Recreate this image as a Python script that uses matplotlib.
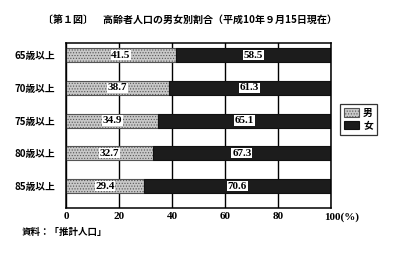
import matplotlib
matplotlib.use("Agg")
import matplotlib.pyplot as plt
import matplotlib.transforms as mtransforms
import numpy as np

plt.rcParams['font.family'] = ['Noto Sans CJK JP', 'DejaVu Sans']
plt.rcParams['hatch.linewidth'] = 0.5

# data
ages = ['65歳以上', '70歳以上', '75歳以上', '80歳以上', '85歳以上']
male = [41.5, 38.7, 34.9, 32.7, 29.4]
female = [58.5, 61.3, 65.1, 67.3, 70.6]
xticks = [0, 20, 40, 60, 80, 100]
xlabels = ['0', '20', '40', '60', '80', '100(%)']

num_font = ['Liberation Serif', 'DejaVu Serif']

fig = plt.figure(figsize=(3.96, 2.62), dpi=100)
ax = fig.add_axes([66/396, 54/262, 265/396, 165/262])

y = np.arange(len(ages))
h = 0.43
ax.barh(y, male, height=h, color='#c8c8c8', edgecolor='#555555',
        hatch='......', linewidth=0.8, label='男', zorder=2)
ax.barh(y, female, left=male, height=h, color='#1c1c1c', edgecolor='#111111',
        linewidth=0.8, label='女', zorder=2)

# value labels on white boxes
box = dict(facecolor='white', edgecolor='none', pad=0.5)
for i in range(len(ages)):
    ax.text(male[i] / 2, y[i], f'{male[i]:.1f}', ha='center', va='center',
            fontsize=8, fontweight='bold', family=num_font, bbox=box, zorder=3)
    ax.text(male[i] + female[i] / 2, y[i], f'{female[i]:.1f}', ha='center',
            va='center', fontsize=8, fontweight='bold', family=num_font,
            bbox=box, zorder=3)

ax.set_xlim(0, 100)
ax.set_ylim(4.67, -0.37)
ax.set_yticks(y)
ax.set_yticklabels(ages, fontsize=7, fontweight='bold')
ax.set_xticks(xticks)
ax.set_xticklabels(xlabels, fontsize=8, fontweight='bold', family=num_font)
ax.tick_params(length=0, pad=3)
ax.tick_params(axis='y', pad=8)
ax.xaxis.grid(True, color='black', linewidth=1.0, zorder=0)
ax.set_axisbelow(True)
for s in ax.spines.values():
    s.set_linewidth(1.1)

# keep "100" under its tick, with the unit trailing to the right
last = ax.get_xticklabels()[-1]
last.set_horizontalalignment('left')
last.set_transform(last.get_transform() +
                   mtransforms.ScaledTranslation(-6.5/100, 0, fig.dpi_scale_trans))

leg = ax.legend(loc='upper left', bbox_to_anchor=(1.015, 0.66), fontsize=7,
                frameon=True, fancybox=False, edgecolor='black',
                handlelength=1.6, handleheight=0.9, borderpad=0.4,
                labelspacing=0.3, handletextpad=0.4)
leg.get_frame().set_linewidth(0.9)
for t in leg.get_texts():
    t.set_fontweight('bold')

fig.text(0.48, 0.925, '〔第１図〕　高齢者人口の男女別割合（平成10年９月15日現在）',
         ha='center', va='center', fontsize=7.2, fontweight='bold')
fig.text(22/396, 1 - 232/262, '資料：「推計人口」', ha='left', va='center',
         fontsize=6.8, fontweight='bold')

fig.savefig('out.png', dpi=100)
